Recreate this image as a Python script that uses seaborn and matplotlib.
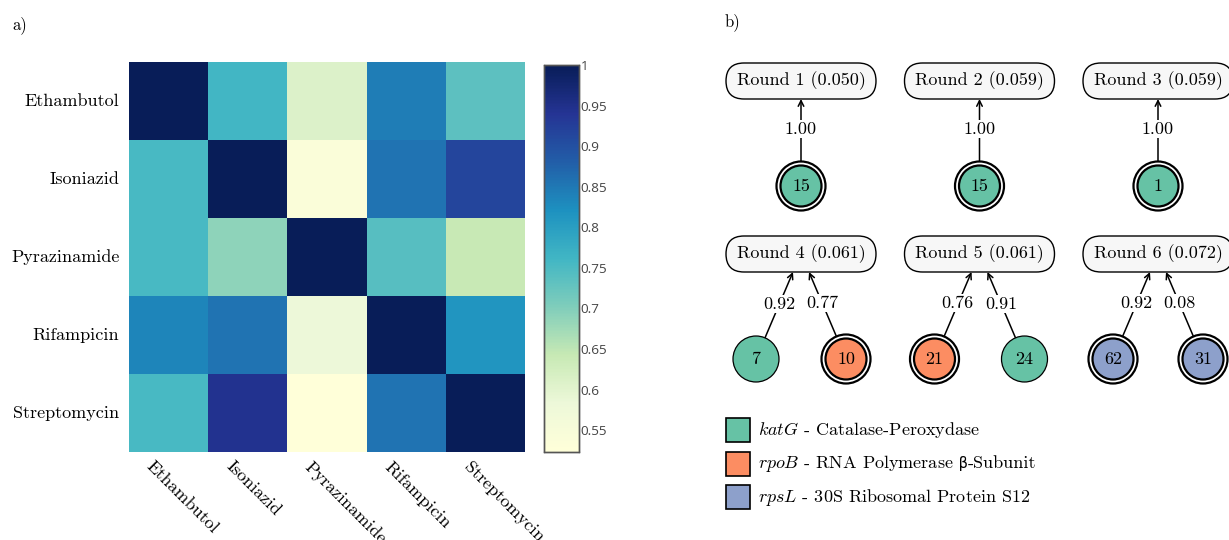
import numpy as np
import pandas as pd
import matplotlib
matplotlib.use("Agg")
import matplotlib.pyplot as plt
import matplotlib.transforms as mtransforms
from matplotlib.colors import LinearSegmentedColormap
from matplotlib.patches import Circle, FancyBboxPatch, Rectangle
from matplotlib.offsetbox import TextArea, HPacker, AnnotationBbox
import seaborn as sns

plt.rcParams['font.family'] = ['cmr10', 'DejaVu Sans']
plt.rcParams['mathtext.fontset'] = 'cm'
plt.rcParams['axes.formatter.use_mathtext'] = True

# heatmap data
drugs = ["Ethambutol", "Isoniazid", "Pyrazinamide", "Rifampicin", "Streptomycin"]
ethambutol = [1.00, 0.76, 0.61, 0.845, 0.735]
isoniazid = [0.755, 1.00, 0.54, 0.855, 0.915]
pyrazinamide = [0.755, 0.69, 1.00, 0.74, 0.642]
rifampicin = [0.835, 0.855, 0.583, 1.00, 0.815]
streptomycin = [0.755, 0.945, 0.523, 0.855, 1.00]
cbar_ticks = [0.55, 0.6, 0.65, 0.7, 0.75, 0.8, 0.85, 0.9, 0.95, 1.0]
heat_colors = ["#ffffd9", "#edf8d9", "#c7e9b4", "#7fcdbb", "#41b6c4",
               "#1d91c0", "#225ea8", "#253494", "#081d58"]

# round diagram data
round_scores = [0.050, 0.059, 0.059, 0.061, 0.061, 0.072]
round_nodes = [[15], [15], [1], [7, 10], [21, 24], [62, 31]]
round_weights = [[1.00], [1.00], [1.00], [0.92, 0.77], [0.76, 0.91], [0.92, 0.08]]
round_genes = [["katG"], ["katG"], ["katG"], ["katG", "rpoB"], ["rpoB", "katG"], ["rpsL", "rpsL"]]
round_selected = [[True], [True], [True], [False, True], [True, False], [True, True]]

gene_names = ["katG", "rpoB", "rpsL"]
gene_desc = ["Catalase-Peroxydase", "RNA Polymerase β-Subunit", "30S Ribosomal Protein S12"]
gene_colors = {"katG": "#66c2a5", "rpoB": "#fc8d62", "rpsL": "#8da0cb"}

df = pd.DataFrame([ethambutol, isoniazid, pyrazinamide, rifampicin, streptomycin],
                  index=drugs, columns=drugs)
cmap = LinearSegmentedColormap.from_list("ylgnbu_plotly", heat_colors)

fig = plt.figure(figsize=(12.29, 5.4), dpi=100)
W, H = 1229, 540
ax = fig.add_axes([129 / W, 88 / H, 396 / W, 390 / H])
cax = fig.add_axes([544 / W, 88 / H, 35 / W, 387 / H])

sns.heatmap(df, cmap=cmap, vmin=0.523, vmax=1.0, ax=ax, cbar_ax=cax,
            cbar_kws={"ticks": cbar_ticks})
ax.tick_params(length=0, pad=7)
ax.set_yticklabels(drugs, rotation=0, fontsize=13)
ax.set_xticklabels(drugs, rotation=-45, fontsize=13, ha="left", va="top",
                   rotation_mode="anchor")
offset = mtransforms.ScaledTranslation(-14 / 100, 3 / 100, fig.dpi_scale_trans)
for lbl in ax.get_xticklabels():
    lbl.set_transform(lbl.get_transform() + offset)

cax.tick_params(length=0, pad=1)
cax.set_yticklabels([f"{t:g}" for t in cbar_ticks], family="Open Sans",
                    fontsize=9.7, color="#444444")
for sp in cax.spines.values():
    sp.set_visible(True)
    sp.set_color("#555555")
    sp.set_linewidth(1)

# right panel, one unit = one pixel
axr = fig.add_axes([700 / W, 0, 529 / W, 1])
axr.set_xlim(700, 1229)
axr.set_ylim(540, 0)
axr.axis("off")

col_x0, col_dx = 801, 178.5
row_y0, row_dy = 81, 173
node_dy = 105
pair_dx = 45
box_w, box_h = 150, 36

for k, score in enumerate(round_scores):
    cx = col_x0 + (k % 3) * col_dx
    cy = row_y0 + (k // 3) * row_dy
    axr.add_patch(FancyBboxPatch((cx - box_w / 2, cy - box_h / 2), box_w, box_h,
                                 boxstyle="round,pad=0,rounding_size=18",
                                 fc="#f7f7f7", ec="black", lw=1.0, zorder=3))
    axr.text(cx, cy, f"Round {k + 1} ({score:.3f})", ha="center", va="center",
             fontsize=13, zorder=4)
    nodes = round_nodes[k]
    n = len(nodes)
    for j, node in enumerate(nodes):
        off = 0 if n == 1 else (-pair_dx if j == 0 else pair_dx)
        nx, ny = cx + off, cy + node_dy
        ex = cx + (0 if n == 1 else (-8 if j == 0 else 8))
        ey = cy + box_h / 2
        sel = round_selected[k][j]
        r = 24.5 if sel else 23
        d = np.array([ex - nx, ey - ny])
        d = d / np.hypot(*d)
        sx, sy = nx + d[0] * r, ny + d[1] * r
        axr.annotate("", xy=(ex, ey), xytext=(sx, sy),
                     arrowprops=dict(arrowstyle="->", lw=1.1, color="black",
                                     shrinkA=0, shrinkB=0, mutation_scale=10),
                     zorder=1)
        axr.text((sx + ex) / 2, (sy + ey) / 2 - 1, f"{round_weights[k][j]:.2f}",
                 ha="center", va="center", fontsize=13, zorder=2,
                 bbox=dict(fc="white", ec="none", pad=1.0))
        color = gene_colors[round_genes[k][j]]
        if sel:
            axr.add_patch(Circle((nx, ny), 24.5, fc="white", ec="black", lw=1.6, zorder=3))
            axr.add_patch(Circle((nx, ny), 20.5, fc=color, ec="black", lw=1.6, zorder=4))
        else:
            axr.add_patch(Circle((nx, ny), 23, fc=color, ec="black", lw=0.9, zorder=3))
        axr.text(nx, ny, str(node), ha="center", va="center", fontsize=13, zorder=5)

# legend: beta set in DejaVu Sans since cmr10 has no glyph for it
leg_y0, leg_dy = 430, 33.5
for i, (g, desc) in enumerate(zip(gene_names, gene_desc)):
    y = leg_y0 + i * leg_dy
    axr.add_patch(Rectangle((726, y - 12), 24, 24, fc=gene_colors[g], ec="black", lw=1.2))
    parts = desc.split("β")
    pieces = [TextArea(f"${g}$ - {parts[0].rstrip()}", textprops=dict(fontsize=13))]
    for rest in parts[1:]:
        pieces.append(TextArea(" β", textprops=dict(fontsize=10.5, family="DejaVu Sans")))
        pieces.append(TextArea(rest, textprops=dict(fontsize=13)))
    row = HPacker(children=pieces, align="baseline", pad=0, sep=0)
    axr.add_artist(AnnotationBbox(row, (758, y), box_alignment=(0, 0.5),
                                  frameon=False, pad=0))

fig.text(12 / W, 1 - 25 / H, "a)", fontsize=12, va="center", ha="left")
fig.text(725 / W, 1 - 22 / H, "b)", fontsize=12, va="center", ha="left")

fig.savefig("out.png", dpi=100)
